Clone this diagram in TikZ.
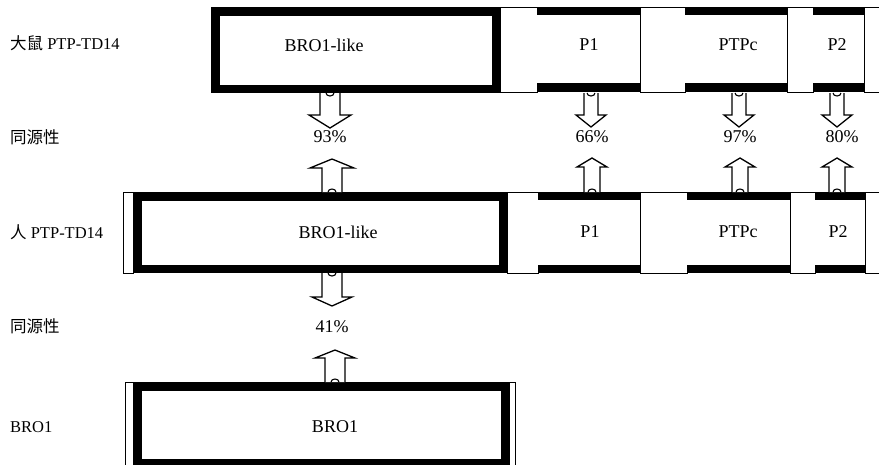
\documentclass[tikz,border=0pt]{standalone}
\usepackage{fontspec}
\setmainfont{Liberation Serif}
\newfontfamily\cjk{Noto Sans CJK SC}
\begin{document}
\begin{tikzpicture}[x=1pt,y=-1pt,
  spacer/.style={fill=white,draw=black,line width=0.8pt},
  barrow/.style={fill=white,draw=black,line width=1.3pt,line join=miter},
  bump/.style={draw=black,line width=1.1pt},
  lbl/.style={font=\fontsize{16.5}{18}\selectfont,anchor=west,inner sep=0pt},
  dom/.style={font=\fontsize{18}{20}\selectfont,inner sep=0pt},
  pct/.style={font=\fontsize{18}{20}\selectfont,inner sep=0pt}]
\useasboundingbox (0,0) rectangle (879,464);
\fill[white] (0,0) rectangle (879,464);

\newcommand\thickbox[5]{% x1 y1 x2 y2 t
  \fill[black] (#1,#2) rectangle (#3,#4);
  \fill[white] (#1+#5,#2+#5) rectangle (#3-#5,#4-#5);}
\newcommand\bandbox[6]{% x1 y1 x2 y2 ttop tbot
  \fill[black] (#1,#2) rectangle (#3,#4);
  \fill[white] (#1,#2+#5) rectangle (#3,#4-#6);}
\newcommand\dnarrow[6]{% cx y0 yb yt s h  (points down)
  \draw[barrow] (#1-#5,#2) -- (#1-#5,#3) -- (#1-#6,#3) -- (#1,#4) -- (#1+#6,#3) -- (#1+#5,#3) -- (#1+#5,#2);
  \draw[bump] (#1-4,#2) arc[start angle=180,end angle=360,x radius=4pt,y radius=3pt];}
\newcommand\uparrowblk[6]{% cx y0 yb yt s h (points up)
  \draw[barrow] (#1-#5,#2) -- (#1-#5,#3) -- (#1-#6,#3) -- (#1,#4) -- (#1+#6,#3) -- (#1+#5,#3) -- (#1+#5,#2);
  \draw[bump] (#1-4,#2) arc[start angle=180,end angle=0,x radius=4pt,y radius=3pt];}

% ---------- rat row ----------
\thickbox{211}{7}{500}{93}{8.5}
\draw[spacer] (500,7) rectangle (537,92);
\bandbox{537}{7}{640}{92}{8}{9}
\draw[spacer] (640,7) rectangle (685,92);
\bandbox{685}{7}{787}{92}{8}{9}
\draw[spacer] (787,7) rectangle (813,92);
\bandbox{813}{7}{864}{92}{8}{9}
\draw[spacer] (864,7) rectangle (895,92);

% ---------- human row ----------
\draw[spacer] (123,192) rectangle (133,273);
\thickbox{133}{192}{507}{273}{8.5}
\draw[spacer] (507,192) rectangle (538,273);
\bandbox{538}{192}{640}{273}{7.5}{8}
\draw[spacer] (640,192) rectangle (687,273);
\bandbox{687}{192}{790}{273}{7.5}{8}
\draw[spacer] (790,192) rectangle (815,273);
\bandbox{815}{192}{865}{273}{7.5}{8}
\draw[spacer] (865,192) rectangle (895,273);

% ---------- BRO1 row ----------
\draw[spacer] (125,382) rectangle (133,470);
\thickbox{133}{382}{509}{467}{8.5}
\draw[spacer] (509,382) rectangle (515,470);

% ---------- domain labels ----------
\node[dom] (ratbro) at (324,45) {BRO1-like};
\node[dom] (ratp1) at (589,45) {P1};
\node[dom] (ratptp) at (738,45) {PTPc};
\node[dom] (ratp2) at (837,45) {P2};
\node[dom] (hubro) at (338,232) {BRO1-like};
\node[dom] (hup1) at (590,232) {P1};
\node[dom] (huptp) at (738,232) {PTPc};
\node[dom] (hup2) at (838,232) {P2};
\node[dom] (bro) at (335,427) {BRO1};

% ---------- left labels ----------
\node[lbl] (l1) at (10,43) {{\cjk 大鼠} PTP-TD14};
\node[lbl] (l2) at (10,137) {\cjk 同源性};
\node[lbl] (l3) at (10,232) {{\cjk 人} PTP-TD14};
\node[lbl] (l4) at (10,326) {\cjk 同源性};
\node[lbl] (l5) at (10,427) {BRO1};

% ---------- percentages ----------
\node[pct] (h1) at (330,137) {93\%};
\node[pct] (h2) at (592,137) {66\%};
\node[pct] (h3) at (740,137) {97\%};
\node[pct] (h4) at (842,137) {80\%};
\node[pct] (h5) at (332,327) {41\%};

% ---------- arrows ----------
\dnarrow{330}{93}{115}{128}{10}{21}
\dnarrow{591}{93}{115}{127}{7}{15}
\dnarrow{739}{93}{115}{127}{7}{15}
\dnarrow{837}{93}{115}{127}{7}{15}

\uparrowblk{332}{192}{168}{159}{10}{22}
\uparrowblk{592}{192}{167}{158}{8}{15}
\uparrowblk{740}{192}{167}{158}{8}{15}
\uparrowblk{837}{192}{167}{158}{8}{15}

\dnarrow{332}{273}{297}{306}{10}{20}
\uparrowblk{335}{382}{358}{350}{10}{20}
\end{tikzpicture}
\end{document}
